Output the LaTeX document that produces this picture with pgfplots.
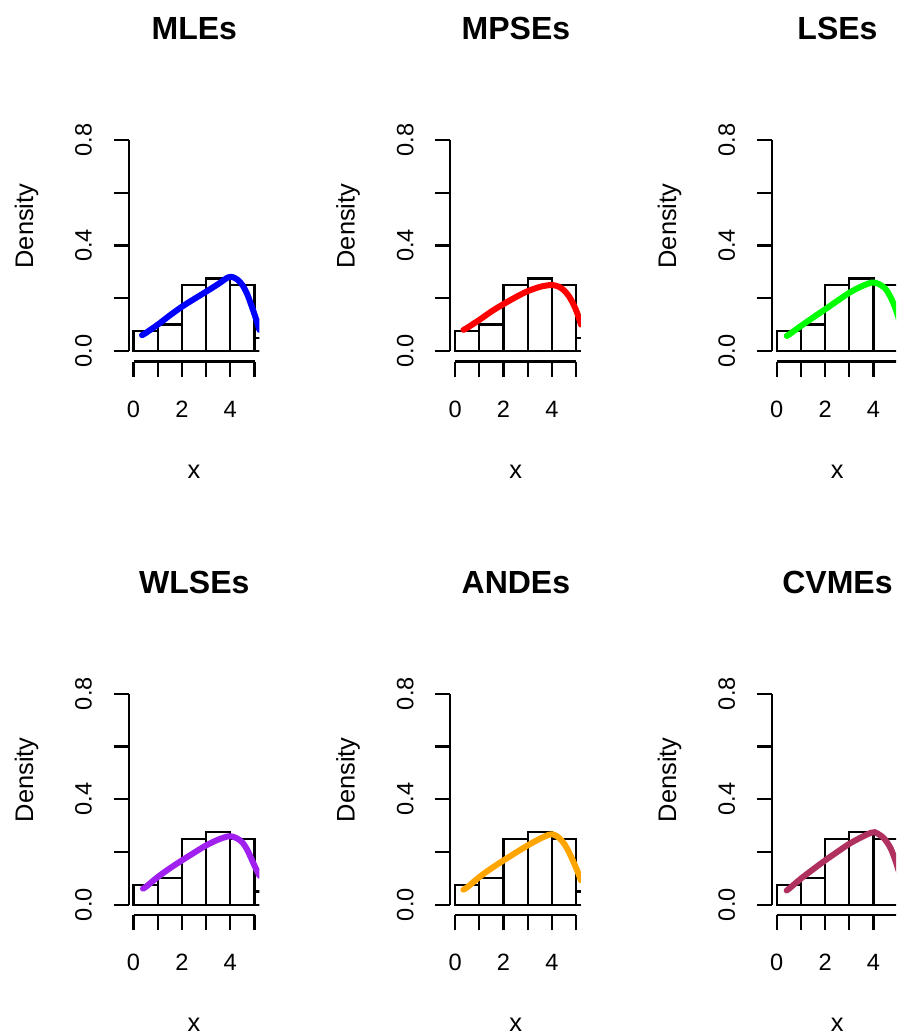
\documentclass[border=0pt]{standalone}
\usepackage{fontspec}
\setmainfont{Liberation Sans}
\usepackage{pgfplots}
\pgfplotsset{compat=1.18}

\definecolor{rpurple}{RGB}{160,32,240}
\definecolor{rorange}{RGB}{255,165,0}
\definecolor{rmaroon}{RGB}{176,48,96}

\newcommand{\tickfont}{\fontsize{11.8}{14}\selectfont}
\newcommand{\labfont}{\fontsize{12.7}{15}\selectfont}
\newcommand{\mainfont}{\fontsize{16}{19}\selectfont\bfseries}

\pgfplotsset{rpanel/.style={
    anchor=south west, scale only axis,
    width=65.34pt, height=116.05pt,
    xmin=-0.2, xmax=5.2, ymin=-0.04, ymax=0.84,
    axis x line*=bottom, axis y line*=left,
    axis line style={draw=none},
    xtick={0,1,2,3,4,5}, ytick={0,0.2,0.4,0.6,0.8},
    xticklabels={,,,,,}, yticklabels={,,,,},
    tick align=outside, major tick length=7.5pt,
    tick style={black, line width=1.15pt},
    clip mode=individual,
}}

% #1 column, #2 row, #3 title, #4 colour, #5 fitted density
\newcommand{\panel}[5]{%
  \begin{axis}[rpanel, at={({(128.7+321.6*#1)*0.5pt},{-(361.55+553.7*#2)*0.5pt})}]
    \addplot[ybar interval, fill=white, draw=black, line width=1.15pt] coordinates {
      (0,0.075) (1,0.1) (2,0.25) (3,0.275) (4,0.25) (5,0.05) (6,0.05)};
    \addplot[#4, line width=3pt, smooth, line cap=round] coordinates {#5};
    \draw[line width=1.15pt] (axis cs:0,-0.04) -- (axis cs:5,-0.04);
    \draw[line width=1.15pt] (axis cs:-0.2,0) -- (axis cs:-0.2,0.8);
  \end{axis}
  \begin{scope}[x=0.5pt, y=-0.5pt]
    \node[font=\mainfont, anchor=base] at ({194.3+321.6*#1},{39.3+553.7*#2}) {#3};
    \foreach \v in {0,2,4}
      \node[font=\tickfont, anchor=base] at ({133.5+24.2*\v+321.6*#1},{417+553.7*#2}) {\v};
    \foreach \v/\t in {0/0.0,0.4/0.4,0.8/0.8}
      \node[font=\tickfont, anchor=base, rotate=90] at ({91.7+321.6*#1},{351-263.75*\v+553.7*#2}) {\t};
    \node[font=\labfont, anchor=base, rotate=90] at ({33+321.6*#1},{226+553.7*#2}) {Density};
    \node[font=\labfont, anchor=base] at ({194+321.6*#1},{478+553.7*#2}) {x};
  \end{scope}
}

\begin{document}
\begin{tikzpicture}
  \path[use as bounding box] (0pt,0pt) rectangle (448pt,-517pt);
  \clip (0pt,0pt) rectangle (448pt,-517pt);

  \panel{0}{0}{MLEs}{blue}{
    (0.35,0.060) (0.5,0.068) (1,0.100) (1.5,0.135) (2,0.168) (2.5,0.197)
    (3,0.225) (3.5,0.254) (3.9,0.279) (4.1,0.280) (4.3,0.270) (4.5,0.250)
    (4.7,0.215) (4.9,0.165) (5.05,0.125) (5.2,0.080)}

  \panel{1}{0}{MPSEs}{red}{
    (0.34,0.080) (0.5,0.088) (1,0.118) (1.5,0.150) (2,0.178) (2.5,0.204)
    (3,0.227) (3.5,0.243) (3.9,0.250) (4.1,0.249) (4.3,0.243) (4.5,0.230)
    (4.7,0.208) (4.9,0.175) (5.05,0.142) (5.2,0.100)}

  \panel{2}{0}{LSEs}{green}{
    (0.41,0.057) (0.5,0.062) (1,0.095) (1.5,0.127) (2,0.158) (2.5,0.190)
    (3,0.221) (3.5,0.245) (3.9,0.259) (4.1,0.258) (4.3,0.250) (4.5,0.235)
    (4.7,0.205) (4.9,0.162) (5.05,0.120) (5.2,0.075)}

  \panel{0}{1}{WLSEs}{rpurple}{
    (0.39,0.061) (0.5,0.067) (1,0.105) (1.5,0.138) (2,0.168) (2.5,0.197)
    (3,0.225) (3.5,0.247) (3.9,0.259) (4.1,0.258) (4.3,0.250) (4.5,0.236)
    (4.7,0.208) (4.9,0.168) (5.05,0.138) (5.2,0.110)}

  \panel{1}{1}{ANDEs}{rorange}{
    (0.34,0.057) (0.5,0.066) (1,0.105) (1.5,0.138) (2,0.168) (2.5,0.197)
    (3,0.225) (3.5,0.250) (3.9,0.266) (4.1,0.265) (4.3,0.253) (4.5,0.232)
    (4.7,0.200) (4.9,0.160) (5.05,0.128) (5.2,0.092)}

  \panel{2}{1}{CVMEs}{rmaroon}{
    (0.41,0.054) (0.5,0.060) (1,0.099) (1.5,0.134) (2,0.168) (2.5,0.200)
    (3,0.231) (3.5,0.256) (3.9,0.273) (4.05,0.275) (4.25,0.265) (4.45,0.250)
    (4.7,0.215) (4.9,0.168) (5.05,0.125) (5.2,0.080)}
\end{tikzpicture}
\end{document}
